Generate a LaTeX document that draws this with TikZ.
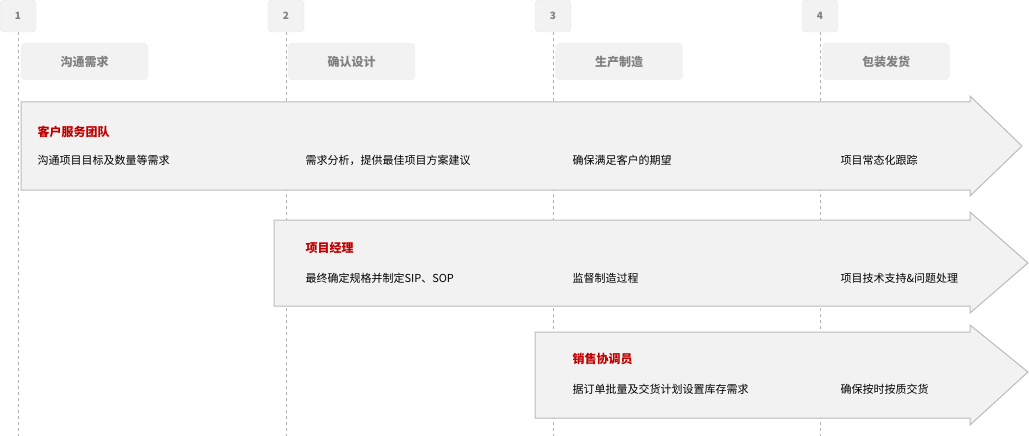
\documentclass[tikz,border=0pt]{standalone}
\usepackage{fontspec}
\setmainfont{Noto Sans CJK SC}
\usetikzlibrary{positioning}
\definecolor{boxgray}{HTML}{F2F2F2}
\definecolor{edgegray}{HTML}{BBBBBB}
\definecolor{titlered}{HTML}{C00000}
\tikzset{
  stepnum/.style={draw=gray!20, fill=boxgray, rounded corners=4pt, minimum width=36pt, minimum height=32pt, text=gray, font=\fontsize{10}{10}\selectfont\bfseries},
  stage/.style={draw=gray!15, fill=boxgray, rounded corners=5pt, minimum width=127pt, minimum height=37pt, text=gray, font=\fontsize{12}{12}\selectfont\bfseries},
  guide/.style={dashed, draw=gray!60, line width=0.6pt},
  band/.style={draw=edgegray, fill=boxgray, line width=1pt},
  role/.style={anchor=west, text=titlered, font=\fontsize{12}{12}\selectfont\bfseries},
  task/.style={anchor=west, font=\fontsize{11}{11}\selectfont}
}
\begin{document}
\begin{tikzpicture}[x=1pt,y=-1pt]
\useasboundingbox (0,0) rectangle (1029,436);
% guides and step numbers
\foreach \n/\x in {1/18,2/286,3/553,4/820}{
  \draw[guide] (\x,32) -- (\x,436);
  \node[stepnum] (num\n) at (\x,16) {\n};
}
% stages
\node[stage] (stage1) at (84.5,61.5) {沟通需求};
\node[stage] (stage2) at (351.5,61.5) {确认设计};
\node[stage] (stage3) at (619,61.5) {生产制造};
\node[stage] (stage4) at (886,61.5) {包装发货};
% bands
\draw[band] (21,102) -- (970,102) -- (970,96) -- (1022,146) -- (970,196) -- (970,190) -- (21,190) -- cycle;
\draw[band] (274,220) -- (970,220) -- (970,212) -- (1028,263) -- (970,313) -- (970,306) -- (274,306) -- cycle;
\draw[band] (535,332) -- (970,332) -- (970,325) -- (1028,372) -- (970,425) -- (970,418) -- (535,418) -- cycle;
% band 1
\node[role] (team) at (34,132) {客户服务团队};
\node[task] (t11) at (34,160) {沟通项目目标及数量等需求};
\node[task] (t12) at (302,160) {需求分析，提供最佳项目方案建议};
\node[task] (t13) at (569,160) {确保满足客户的期望};
\node[task] (t14) at (837,160) {项目常态化跟踪};
% band 2
\node[role] (pm) at (302,248) {项目经理};
\node[task] (t22) at (302,278) {最终确定规格并制定SIP、SOP};
\node[task] (t23) at (569,278) {监督制造过程};
\node[task] (t24) at (837,278) {项目技术支持\&问题处理};
% band 3
\node[role] (sales) at (569,359) {销售协调员};
\node[task] (t33) at (569,389) {据订单批量及交货计划设置库存需求};
\node[task] (t34) at (837,389) {确保按时按质交货};
\end{tikzpicture}
\end{document}
